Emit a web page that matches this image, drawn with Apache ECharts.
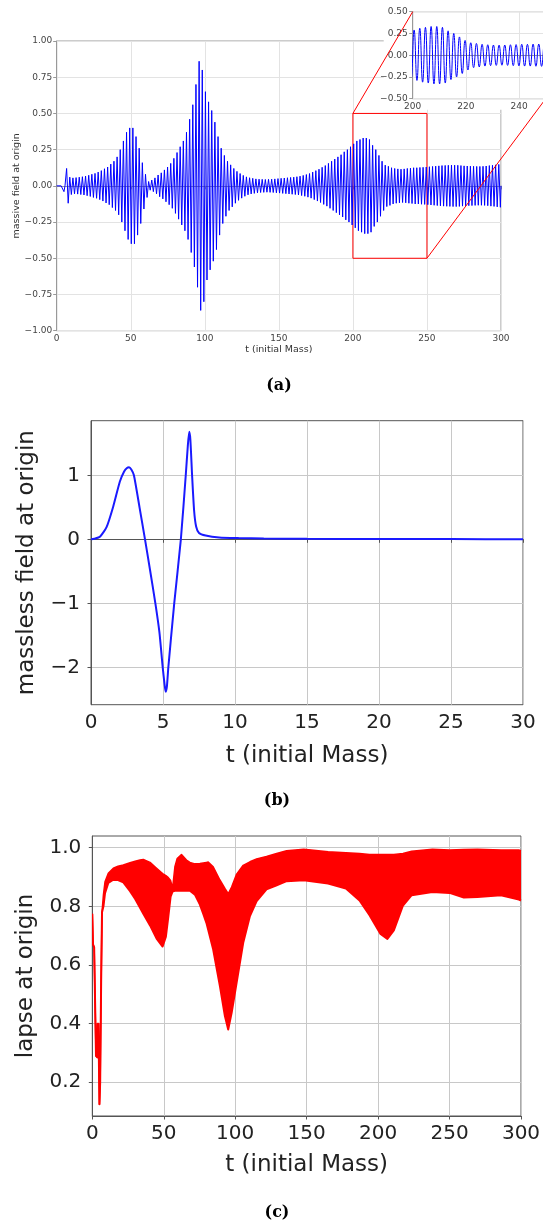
<!DOCTYPE html>
<html><head><meta charset="utf-8">
<script src="https://cdn.jsdelivr.net/npm/echarts@6/dist/echarts.min.js"></script>
<style>html,body{margin:0;padding:0;background:#fff}#c{width:543px;height:1224px}</style>
</head><body><div id="c"></div>
<script>
// ---------- Panel (a): massive field at origin ----------
const preTA = [0, 3.0, 3.6, 4.3, 4.9, 5.6];
const preYA = [0, 0.0, 0.012, 0.0, -0.04, 0.0];
const tA0 = 6.7;        // time of first large oscillation peak
const periodA = 2.13;   // oscillation period
// amplitude of each oscillation cycle
const ampA = [
 0.12,0.06,0.055,0.057,0.06,0.063,0.068,0.073,0.08,0.086,
 0.095,0.105,0.118,0.13,0.15,0.17,0.20,0.25,0.31,0.37,
 0.40,0.40,0.34,0.26,0.16,0.08,0.03,0.04,0.055,0.075,
 0.09,0.11,0.13,0.155,0.19,0.23,0.27,0.31,0.37,0.46,
 0.56,0.70,0.86,0.80,0.65,0.58,0.52,0.44,0.34,0.26,
 0.21,0.17,0.145,0.12,0.10,0.085,0.072,0.062,0.056,0.052,
 0.048,0.046,0.045,0.044,0.045,0.046,0.048,0.05,0.052,0.054,
 0.056,0.058,0.06,0.063,0.067,0.072,0.078,0.085,0.095,0.105,
 0.115,0.128,0.14,0.155,0.17,0.185,0.20,0.215,0.235,0.25,
 0.27,0.29,0.31,0.32,0.33,0.33,0.32,0.28,0.25,0.21,
 0.17,0.143,0.135,0.125,0.12,0.117,0.115,0.117,0.12,0.122,
 0.125,0.125,0.127,0.128,0.13,0.132,0.134,0.136,0.138,0.14,
 0.141,0.142,0.143,0.143,0.142,0.14,0.138,0.137,0.136,0.135,
 0.134,0.134,0.135,0.137,0.14,0.142,0.145,0.148
];

// ---------- Panel (b): massless field at origin ----------
const tB = [0,0.23,0.62,1.08,1.54,2.0,2.3,2.5,2.64,2.8,2.98,3.37,3.75,4.1,4.47,4.75,4.98,5.1,5.18,5.27,5.37,5.78,6.24,6.58,6.72,6.82,6.9,7.02,7.16,7.3,7.5,7.96,8.9,10.25,12,15,20,25,30];
const yB = [0,0.01,0.04,0.19,0.51,0.9,1.06,1.115,1.125,1.09,1.0,0.5,0.0,-0.48,-1.0,-1.45,-2.0,-2.25,-2.38,-2.3,-2.0,-1.0,0.0,1.0,1.45,1.68,1.56,1.0,0.45,0.2,0.1,0.06,0.03,0.02,0.013,0.008,0.005,0.003,0.002];
const yTicksB = [-2, -1, 0, 1];

// ---------- Panel (c): lapse at origin (band lower / upper) ----------
const tC  = [0,0.5,1.3,2.6,3.5,3.7,4.3,5.0,5.5,6.2,6.8,7.8,8.9,11.2,14.7,18,21.7,26.4,30,33.4,35.7,40.4,45,49.2,51.5,53.2,54.8,56.2,57.8,59.4,62.4,65.9,68.3,71.8,75.3,77.6,79.9,81.1,84.6,89.3,92.8,95.1,97.5,101,105.6,110.3,115,121.9,129,136,148,165,177.5,187,194,201.7,206.5,211,217.4,223.5,238,250,260,269.5,286,298.5,300];
const loC = [0.775,0.67,0.66,0.29,0.285,0.40,0.40,0.125,0.2,0.55,0.78,0.80,0.845,0.88,0.891,0.89,0.882,0.852,0.825,0.795,0.775,0.735,0.69,0.663,0.697,0.765,0.833,0.851,0.853,0.853,0.853,0.853,0.853,0.84,0.806,0.775,0.743,0.72,0.653,0.528,0.426,0.38,0.437,0.54,0.676,0.767,0.818,0.858,0.872,0.886,0.889,0.878,0.861,0.82,0.77,0.706,0.689,0.718,0.803,0.838,0.849,0.846,0.83,0.832,0.838,0.823,0.82];
const upC = [0.775,0.67,0.66,0.29,0.285,0.40,0.40,0.125,0.2,0.55,0.78,0.84,0.884,0.913,0.93,0.937,0.941,0.949,0.954,0.958,0.96,0.95,0.93,0.912,0.905,0.898,0.888,0.862,0.935,0.963,0.977,0.958,0.95,0.945,0.946,0.948,0.95,0.951,0.935,0.89,0.861,0.843,0.866,0.91,0.94,0.952,0.962,0.97,0.98,0.99,0.995,0.986,0.983,0.98,0.977,0.977,0.977,0.977,0.98,0.988,0.995,0.992,0.994,0.995,0.992,0.992,0.99];
const yTicksC = [0.2, 0.4, 0.6, 0.8, 1.0];

// ---------- build series tables ----------
const seriesA = preTA.map((t, i) => [t, preYA[i]]);
ampA.forEach((a, k) => {
  const t = tA0 + k * periodA;
  seriesA.push([t, a]);
  seriesA.push([t + periodA / 2, -a]);
});
seriesA.push([300, 0]);
const seriesB = tB.map((t, i) => [t, yB[i]]);
const seriesC = tC.map((t, i) => [t, loC[i], upC[i]]);

const minus = s => String(s).replace('-', '\u2212');
const F = 'DejaVu Sans';
const cA = '#444', cB = '#222';

function ax(grid, min, max, interval, fs, color, frame, gridCol, margin, extra) {
  return Object.assign({
    type: 'value', gridIndex: grid, min, max, interval, nameMoveOverlap: false,
    axisLine: { show: true, lineStyle: { color: frame, width: 1 } },
    axisTick: { show: true, length: 3.5, lineStyle: { color: frame } },
    axisLabel: { fontFamily: F, fontSize: fs, color, margin, formatter: v => minus(v) },
    splitLine: { show: true, lineStyle: { color: gridCol, width: 1 } }
  }, extra || {});
}

const chart = echarts.init(document.getElementById('c'), null, { renderer: 'canvas' });
const gBase = { outerBoundsMode: 'none', containLabel: false, show: true, borderWidth: 1 };
const option = {
  animation: false,
  backgroundColor: '#fff',
  grid: [
    Object.assign({ left: 56.7, top: 41, width: 444.3, height: 289.7, borderColor: '#999', backgroundColor: 'transparent' }, gBase),
    Object.assign({ left: 412.7, top: 11.7, width: 133, height: 87, borderColor: '#999', backgroundColor: '#fff', z: 9 }, gBase),
    Object.assign({ left: 91, top: 420.7, width: 432, height: 284, borderColor: '#555', backgroundColor: 'transparent' }, gBase),
    Object.assign({ left: 92.3, top: 836, width: 428.7, height: 280, borderColor: '#555', backgroundColor: 'transparent' }, gBase)
  ],
  xAxis: [
    ax(0, 0, 300, 50, 9, cA, '#999', '#e3e3e3', 3, {
      name: 't (initial Mass)', nameLocation: 'middle', nameGap: 14,
      nameTextStyle: { fontFamily: F, fontSize: 9.5, color: '#333' } }),
    ax(1, 200, 250, 20, 9, cA, '#999', '#e3e3e3', 3, { z: 10,
      axisLabel: { fontFamily: F, fontSize: 9, color: cA, margin: 3, showMaxLabel: false } }),
    ax(2, 0, 30, 5, 20, cB, '#555', '#c8c8c8', 8, {
      name: 't (initial Mass)', nameLocation: 'middle', nameGap: 40,
      nameTextStyle: { fontFamily: F, fontSize: 23, color: cB } }),
    ax(3, 0, 300, 50, 20, cB, '#555', '#c8c8c8', 8, {
      name: 't (initial Mass)', nameLocation: 'middle', nameGap: 38,
      nameTextStyle: { fontFamily: F, fontSize: 23, color: cB } })
  ],
  yAxis: [
    ax(0, -1, 1, 0.25, 9, cA, '#999', '#e3e3e3', 4.5, {
      axisLabel: { fontFamily: F, fontSize: 9, color: cA, margin: 4.5, formatter: v => minus(v.toFixed(2)) },
      name: 'massive field at origin', nameLocation: 'middle', nameGap: 35,
      nameTextStyle: { fontFamily: F, fontSize: 9.5, color: '#333' } }),
    ax(1, -0.5, 0.5, 0.25, 9, cA, '#999', '#e3e3e3', 5, {
      z: 10,
      axisLabel: { fontFamily: F, fontSize: 9, color: cA, margin: 5, formatter: v => minus(v.toFixed(2)) } }),
    ax(2, -2.584, 1.853, undefined, 20, cB, '#555', '#c8c8c8', 11, {
      axisLabel: { fontFamily: F, fontSize: 20, color: cB, margin: 11, customValues: yTicksB, formatter: v => minus(v) },
      axisTick: { show: true, length: 3.5, customValues: yTicksB, lineStyle: { color: '#555' } },
      name: 'massless field at origin', nameLocation: 'middle', nameGap: 52,
      nameTextStyle: { fontFamily: F, fontSize: 23, color: cB } }),
    ax(3, 0.085, 1.04, undefined, 20, cB, '#555', '#c8c8c8', 11, {
      axisLabel: { fontFamily: F, fontSize: 20, color: cB, margin: 11, customValues: yTicksC, formatter: v => v.toFixed(1) },
      axisTick: { show: true, length: 3.5, customValues: yTicksC, lineStyle: { color: '#555' } },
      name: 'lapse at origin', nameLocation: 'middle', nameGap: 55,
      nameTextStyle: { fontFamily: F, fontSize: 23, color: cB } })
  ],
  series: [
    { type: 'line', xAxisIndex: 0, yAxisIndex: 0, data: seriesA, showSymbol: false, symbol: 'none',
      lineStyle: { color: '#0000ff', width: 1 }, z: 2,
      markArea: { silent: true, itemStyle: { color: 'rgba(0,0,0,0)', borderColor: '#ff0000', borderWidth: 1 },
        data: [[{ xAxis: 200, yAxis: 0.5 }, { xAxis: 250, yAxis: -0.5 }]] } },
    { type: 'line', xAxisIndex: 1, yAxisIndex: 1, data: seriesA, showSymbol: false, symbol: 'none', smooth: 0.5,
      lineStyle: { color: '#0000ff', width: 1 }, z: 11, clip: true },
    { type: 'line', xAxisIndex: 2, yAxisIndex: 2, data: seriesB, showSymbol: false, symbol: 'none', smooth: 0.2,
      lineStyle: { color: '#1a1aff', width: 2 } },
    { type: 'custom', xAxisIndex: 3, yAxisIndex: 3, coordinateSystem: 'cartesian2d', clip: true,
      data: [seriesC[0]], encode: { x: 0, y: [1, 2] },
      renderItem: (params, api) => {
        const top = seriesC.map(d => api.coord([d[0], d[2]]));
        const bot = seriesC.map(d => api.coord([d[0], d[1]]));
        return { type: 'group', children: [
          { type: 'polygon', shape: { points: top.concat(bot.slice().reverse()) }, style: { fill: '#ff0000' } },
          { type: 'polyline', shape: { points: top }, style: { stroke: '#ff0000', lineWidth: 1.5, fill: null, lineJoin: 'round' } },
          { type: 'polyline', shape: { points: bot }, style: { stroke: '#ff0000', lineWidth: 2, fill: null, lineJoin: 'round' } }
        ] };
      } }
  ]
};
chart.setOption(option);

// connectors between the zoom box and the inset (positions from the library's scales)
const pA1 = chart.convertToPixel({ gridIndex: 0 }, [200, 0.5]);
const pA2 = chart.convertToPixel({ gridIndex: 0 }, [250, -0.5]);
const pI1 = chart.convertToPixel({ gridIndex: 1 }, [200, 0.5]);
const pI2 = chart.convertToPixel({ gridIndex: 1 }, [250, -0.5]);
const capFont = 'bold 16px "DejaVu Serif", serif';
chart.setOption({
  graphic: [
    { type: 'rect', shape: { x: pI1[0] - 29, y: 0, width: 200, height: pI2[1] + 11 }, style: { fill: '#fff' }, z: 8, silent: true },
    { type: 'line', shape: { x1: pA1[0], y1: pA1[1], x2: pI1[0], y2: pI1[1] }, style: { stroke: '#ff0000', lineWidth: 1 }, z: 12, silent: true },
    { type: 'line', shape: { x1: pA2[0], y1: pA2[1], x2: pI2[0], y2: pI2[1] }, style: { stroke: '#ff0000', lineWidth: 1 }, z: 12, silent: true },
    { type: 'text', x: 279, y: 386, style: { text: '(a)', font: capFont, fill: '#000', textAlign: 'center', textVerticalAlign: 'middle' }, z: 12 },
    { type: 'text', x: 277, y: 801, style: { text: '(b)', font: capFont, fill: '#000', textAlign: 'center', textVerticalAlign: 'middle' }, z: 12 },
    { type: 'text', x: 277, y: 1213, style: { text: '(c)', font: capFont, fill: '#000', textAlign: 'center', textVerticalAlign: 'middle' }, z: 12 }
  ]
});
</script></body></html>
